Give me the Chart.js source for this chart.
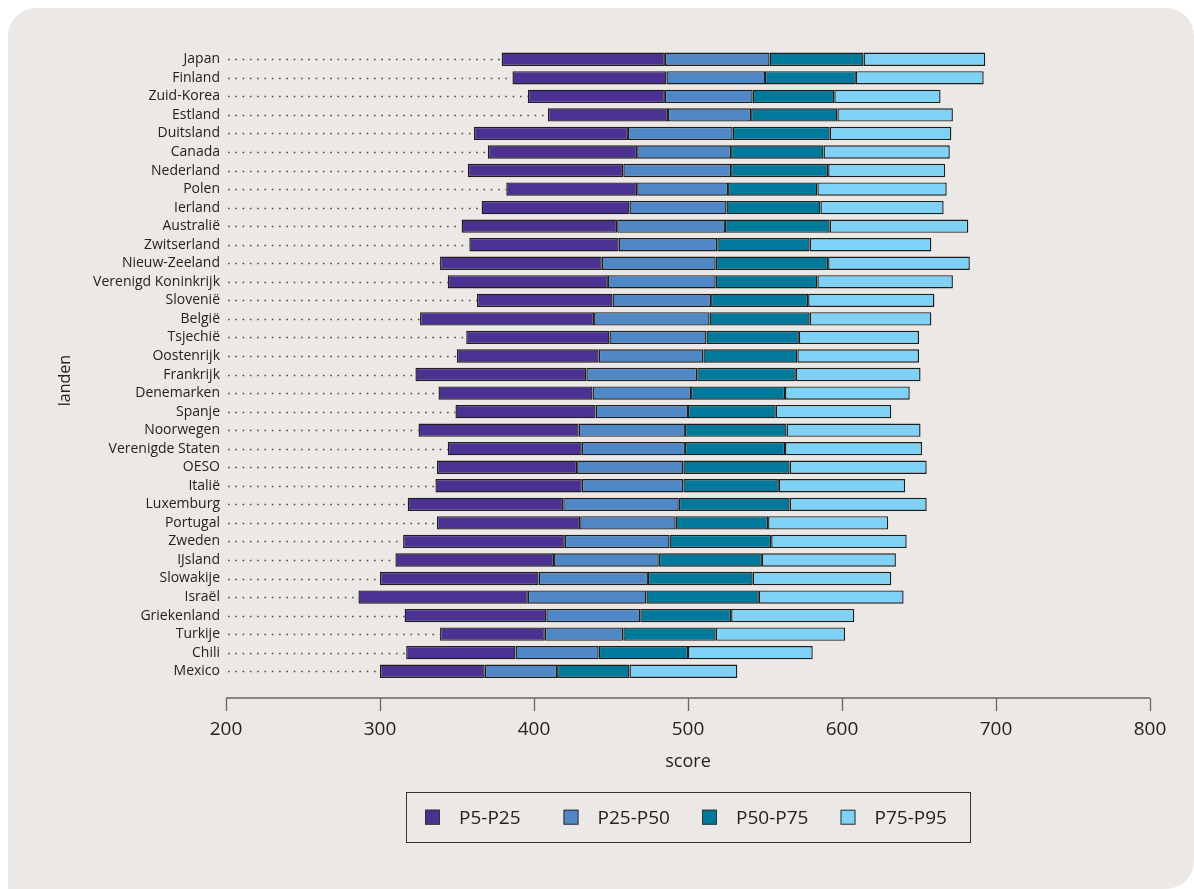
<!DOCTYPE html>
<html lang="nl">
<head>
<meta charset="utf-8">
<title>Spreiding scores per land</title>
<script src="https://cdn.jsdelivr.net/npm/chart.js@4.4.1/dist/chart.umd.min.js"></script>
<style>
    html, body { margin: 0; padding: 0; background: #ffffff; }
    #paneel {
        position: absolute;
        left: 8px;
        top: 8px;
        width: 1186px;
        height: 881px;
        background: #ece8e5;
        border-radius: 28px 28px 28px 0;
        overflow: hidden;
    }
</style>
</head>
<body>
<div id="paneel">
    <canvas id="graficoScores" width="1186" height="881"></canvas>
</div>
<script>
// landen en percentielen (score)
const landen = ['Japan', 'Finland', 'Zuid-Korea', 'Estland', 'Duitsland', 'Canada', 'Nederland', 'Polen',
    'Ierland', 'Australië', 'Zwitserland', 'Nieuw-Zeeland', 'Verenigd Koninkrijk', 'Slovenië', 'België',
    'Tsjechië', 'Oostenrijk', 'Frankrijk', 'Denemarken', 'Spanje', 'Noorwegen', 'Verenigde Staten', 'OESO',
    'Italië', 'Luxemburg', 'Portugal', 'Zweden', 'IJsland', 'Slowakije', 'Israël', 'Griekenland', 'Turkije',
    'Chili', 'Mexico'];

const p5 = [379, 386, 396, 409, 361, 370, 357, 382, 366, 353, 358, 339, 344, 363, 326, 356, 350,
    323, 338, 349, 325, 344, 337, 336, 318, 337, 315, 310, 300, 286, 316, 339, 317, 300];
const p25 = [485, 486, 485, 487, 461, 467, 458, 467, 462, 454, 455, 444, 448, 451, 439, 449, 442,
    434, 438, 440, 429, 431, 428, 431, 419, 430, 420, 413, 403, 396, 408, 407, 388, 368];
const p50 = [553, 550, 542, 541, 529, 528, 528, 526, 525, 524, 519, 518, 518, 515, 514, 512, 510,
    506, 502, 500, 498, 498, 497, 497, 494, 492, 488, 481, 474, 473, 469, 458, 442, 415];
const p75 = [614, 609, 595, 597, 592, 588, 591, 584, 586, 592, 579, 591, 584, 578, 579, 572, 571,
    570, 563, 557, 564, 563, 566, 559, 566, 552, 554, 548, 542, 546, 528, 518, 500, 462];
const p95 = [693, 692, 664, 672, 671, 670, 667, 668, 666, 682, 658, 683, 672, 660, 658, 650, 650,
    651, 644, 632, 651, 652, 655, 641, 655, 630, 642, 635, 632, 640, 608, 602, 581, 532];

const asTicks = [200, 300, 400, 500, 600, 700, 800];
const reeksen = ['P5-P25', 'P25-P50', 'P50-P75', 'P75-P95'];
const kleuren = ['#4b3292', '#4f87c7', '#00799b', '#7fd2f6'];

const lettertype = "'Open Sans', 'Noto Sans', sans-serif";
const tekstKleur = '#222222';

function maakBanden(van, tot) {
    return van.map(function (v, i) { return [v, tot[i]]; });
}

const grenzen = [p5, p25, p50, p75, p95];

// stippellijnen van label tot begin van de balk, as met streepjes, y-titel en legenda
const extraTekenen = {
    id: 'extraTekenen',
    beforeDatasetsDraw: function (chart) {
        const c = chart.ctx;
        const x = chart.scales.x;
        const y = chart.scales.y;
        c.save();
        c.strokeStyle = '#4a4a4a';
        c.lineWidth = 1.6;
        c.setLineDash([1.6, 5.7]);
        landen.forEach(function (land, i) {
            const py = Math.round(y.getPixelForValue(i)) + 0.5;
            c.beginPath();
            c.moveTo(x.getPixelForValue(asTicks[0]) + 2, py);
            c.lineTo(x.getPixelForValue(p5[i]), py);
            c.stroke();
        });
        c.restore();
    },
    afterDraw: function (chart) {
        const c = chart.ctx;
        const x = chart.scales.x;
        const area = chart.chartArea;
        const asY = area.bottom + 17.5;

        c.save();
        // x-as
        c.strokeStyle = '#666666';
        c.lineWidth = 1.3;
        c.beginPath();
        c.moveTo(x.getPixelForValue(asTicks[0]), asY);
        c.lineTo(x.getPixelForValue(asTicks[asTicks.length - 1]), asY);
        asTicks.forEach(function (t) {
            const px = Math.round(x.getPixelForValue(t)) + 0.5;
            c.moveTo(px, asY);
            c.lineTo(px, asY + 13);
        });
        c.stroke();

        // y-titel
        c.fillStyle = tekstKleur;
        c.font = '16px ' + lettertype;
        c.textAlign = 'center';
        c.textBaseline = 'middle';
        c.translate(57, (area.top + asY + 13) / 2);
        c.rotate(-Math.PI / 2);
        c.fillText('landen', 0, 0);
        c.restore();

        // legenda met kader
        const midden = (area.left + area.right) / 2;
        const legY = area.bottom + 136.7;
        const stap = 138.5;
        c.save();
        c.strokeStyle = '#333333';
        c.lineWidth = 1;
        c.strokeRect(Math.round(midden - 282) + 0.5, Math.round(legY - 25) + 0.5, 564, 50);
        c.font = '19px ' + lettertype;
        c.textBaseline = 'middle';
        c.textAlign = 'left';
        reeksen.forEach(function (naam, i) {
            const bx = midden - 263 + i * stap;
            c.fillStyle = kleuren[i];
            c.fillRect(bx, legY - 7.5, 15, 15);
            c.strokeStyle = '#333333';
            c.strokeRect(bx + 0.5, legY - 7, 14, 14);
            c.fillStyle = tekstKleur;
            c.fillText(naam, bx + 34, legY + 1);
        });
        c.restore();
    }
};

document.addEventListener('DOMContentLoaded', function () {
    const ctx = document.getElementById('graficoScores');

    const datasets = reeksen.map(function (naam, i) {
        return {
            label: naam,
            data: maakBanden(grenzen[i], grenzen[i + 1]),
            backgroundColor: kleuren[i],
            borderColor: '#1e1e1e',
            borderWidth: 1.4,
            borderSkipped: false,
            grouped: false,
            categoryPercentage: 1,
            barPercentage: 0.72
        };
    });

    new Chart(ctx, {
        type: 'bar',
        data: {
            labels: landen,
            datasets: datasets
        },
        options: {
            indexAxis: 'y',
            responsive: false,
            animation: false,
            devicePixelRatio: 1,
            layout: {
                padding: { left: 43, top: 42, right: 44, bottom: 113 }
            },
            scales: {
                x: {
                    type: 'linear',
                    min: 200,
                    max: 800,
                    afterBuildTicks: function (scale) {
                        scale.ticks = asTicks.map(function (t) { return { value: t }; });
                    },
                    // de as zelf wordt in de plugin getekend, met ruimte eronder
                    grid: { display: false, drawTicks: true, tickLength: 36 },
                    border: { display: false },
                    ticks: {
                        padding: 2,
                        color: tekstKleur,
                        font: { family: lettertype, size: 19 }
                    },
                    title: {
                        display: true,
                        text: 'score',
                        color: tekstKleur,
                        padding: { top: 0, bottom: 3 },
                        font: { family: lettertype, size: 18 }
                    },
                    afterFit: function (scale) { scale.height = 95.5; }
                },
                y: {
                    type: 'category',
                    grid: { display: false, drawTicks: false },
                    border: { display: false },
                    ticks: {
                        autoSkip: false,
                        padding: 6,
                        color: tekstKleur,
                        font: { family: lettertype, size: 14 }
                    },
                    afterFit: function (scale) { scale.width = 175; }
                }
            },
            plugins: {
                legend: { display: false },
                tooltip: { enabled: false }
            }
        },
        plugins: [extraTekenen]
    });
});
</script>
</body>
</html>
